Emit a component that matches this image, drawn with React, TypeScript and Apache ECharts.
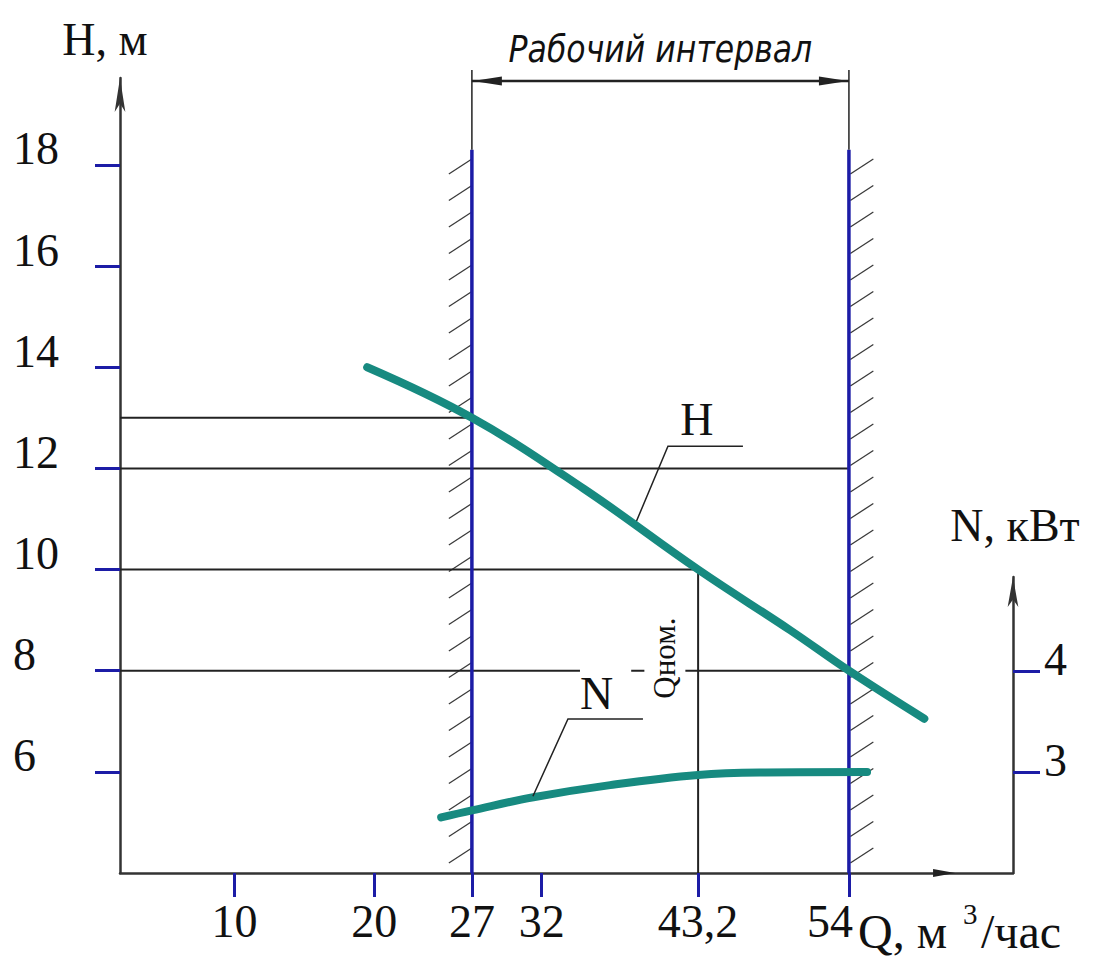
import React, { useEffect, useRef } from "react";
import * as echarts from "echarts";

// ---- Axes (values) ----
const Q_MIN = 1.8; // м³/час at the origin of the drawing
const Q_MAX = 65.75;
const Q_TICKS = [10, 20, 27, 32, 43.2, 54];
const H_MIN = 4; // м
const H_MAX = 19.72;
const H_TICKS = [6, 8, 10, 12, 14, 16, 18];
const N_MIN = 2; // кВт
const N_MAX = 4.93;
const N_TICKS = [3, 4];

// ---- Pump head curve H(Q) ----
const H_CURVE_Q = [19.5, 27, 35, 43.2, 49.8, 54, 59.4];
const H_CURVE_H = [14.0, 13.0, 11.6, 10.0, 8.8, 8.0, 7.05];

// ---- Pump power curve N(Q) ----
const N_CURVE_Q = [24.8, 27, 31.4, 36.9, 43.2, 48, 55.3];
const N_CURVE_N = [2.55, 2.62, 2.75, 2.87, 2.97, 2.995, 3.0];

// ---- Working interval and nominal point ----
const Q_WORK_MIN = 27;
const Q_WORK_MAX = 54;
const Q_NOM = 43.2;
const H_NOM = 10;

// ---- Horizontal reference lines: head level and the flow they run to ----
const REF_H = [13, 12, 10, 8];
const REF_TO_Q = [27, 54, 43.2, 54];

// ---- Annotation anchors (data units) ----
const INTERVAL_TOP_H = 18.3;
const DIM_LINE_H = 19.66;
const EXT_TOP_H = 19.88;
const TITLE_INTERVAL = [40.5, 20.3];
const HATCH_WIDTH_Q = 1.65;
const X_ARROW_TIP_Q = 61.6;
const H_LEADER = [[38.67, 10.88], [41.04, 12.44], [46.41, 12.44]];
const H_LABEL = [43.11, 12.96];
const QNOM_LABEL = [40.82, 8.25];
const N_LEADER = [[31.37, 2.76], [33.88, 3.525], [39.25, 3.525]];
const N_LABEL = [34.74, 3.78];

const SERIF = "'Liberation Serif', 'DejaVu Serif', 'Times New Roman', serif";
const TEAL = "#178a80";
const BLUE = "#1c1ca6";
const INK = "#222";
const AXIS = "#333";

const hData = H_CURVE_Q.map((q, i) => [q, H_CURVE_H[i]]);
const nData = N_CURVE_Q.map((q, i) => [q, N_CURVE_N[i]]);

function renderDecorH(params: any, api: any) {
  const c = (q: number, h: number) => api.coord([q, h]);
  const children: any[] = [];
  const line = (a: number[], b: number[], stroke: string, w: number) =>
    children.push({
      type: "line",
      shape: { x1: a[0], y1: a[1], x2: b[0], y2: b[1] },
      style: { stroke, lineWidth: w },
    });

  // hatching outside the working interval
  const strips = [
    [Q_WORK_MIN - HATCH_WIDTH_Q, Q_WORK_MIN],
    [Q_WORK_MAX + 0.1, Q_WORK_MAX + 0.1 + HATCH_WIDTH_Q],
  ];
  strips.forEach(([q0, q1]) => {
    const tl = c(q0, INTERVAL_TOP_H);
    const br = c(q1, H_MIN);
    for (let y = br[1] - 10; y - 16 >= tl[1]; y -= 26.5) {
      line([tl[0], y], [br[0], y - 15], "#3a3a3a", 1.3);
    }
  });

  // reference lines
  REF_H.forEach((h, i) => line(c(Q_MIN, h), c(REF_TO_Q[i], h), INK, 2));
  line(c(Q_NOM, H_NOM), c(Q_NOM, H_MIN), INK, 2);

  // working interval bounds and extension lines
  [Q_WORK_MIN, Q_WORK_MAX].forEach((q) => {
    line(c(q, INTERVAL_TOP_H), c(q, H_MIN), BLUE, 3.5);
    line(c(q, INTERVAL_TOP_H), c(q, EXT_TOP_H), INK, 1.5);
  });

  // dimension line with arrows
  const d0 = c(Q_WORK_MIN, DIM_LINE_H);
  const d1 = c(Q_WORK_MAX, DIM_LINE_H);
  line(d0, d1, INK, 2.5);
  children.push({
    type: "polygon",
    shape: { points: [[d0[0] + 1, d0[1]], [d0[0] + 30, d0[1] - 4.5], [d0[0] + 30, d0[1] + 4.5]] },
    style: { fill: INK },
  });
  children.push({
    type: "polygon",
    shape: { points: [[d1[0] - 1, d1[1]], [d1[0] - 30, d1[1] - 4.5], [d1[0] - 30, d1[1] + 4.5]] },
    style: { fill: INK },
  });

  // arrow on the Q axis
  const xa = c(X_ARROW_TIP_Q, H_MIN);
  children.push({
    type: "polygon",
    shape: { points: [[xa[0], xa[1]], [xa[0] - 22, xa[1] - 4], [xa[0] - 22, xa[1] + 4]] },
    style: { fill: INK },
  });

  // leader for H
  children.push({
    type: "polyline",
    shape: { points: H_LEADER.map((p) => c(p[0], p[1])) },
    style: { stroke: INK, lineWidth: 1.5, fill: "none" },
  });
  const hl = c(H_LABEL[0], H_LABEL[1]);
  children.push({
    type: "text",
    x: hl[0],
    y: hl[1],
    style: { text: "H", fontSize: 46, fontFamily: SERIF, fill: "#111", align: "center", verticalAlign: "middle" },
  });

  // Q nominal label
  const ql = c(QNOM_LABEL[0], QNOM_LABEL[1]);
  children.push({
    type: "text",
    x: ql[0],
    y: ql[1],
    rotation: Math.PI / 2,
    style: {
      text: "Qном.",
      fontSize: 31,
      fontFamily: SERIF,
      fill: "#111",
      align: "center",
      verticalAlign: "middle",
      backgroundColor: "#fff",
      padding: [5, 6, 5, 6],
    },
  });

  // working interval title
  const tl = c(TITLE_INTERVAL[0], TITLE_INTERVAL[1]);
  children.push({
    type: "text",
    x: tl[0],
    y: tl[1],
    scaleX: 0.83,
    style: {
      text: "Рабочий интервал",
      fontSize: 38,
      fontStyle: "italic",
      fontFamily: "'DejaVu Sans', sans-serif",
      fill: "#111",
      align: "center",
      verticalAlign: "middle",
    },
  });

  return { type: "group", children };
}

function renderDecorN(params: any, api: any) {
  const c = (q: number, n: number) => api.coord([q, n]);
  const children: any[] = [];
  const nl = c(N_LABEL[0], N_LABEL[1]);
  children.push({
    type: "text",
    x: nl[0],
    y: nl[1],
    style: {
      text: "N",
      fontSize: 46,
      fontFamily: SERIF,
      fill: "#111",
      align: "left",
      verticalAlign: "middle",
      backgroundColor: "#fff",
      padding: [5, 18, 5, 0],
    },
  });
  children.push({
    type: "polyline",
    shape: { points: N_LEADER.map((p) => c(p[0], p[1])) },
    style: { stroke: INK, lineWidth: 1.5, fill: "none" },
  });
  return { type: "group", children };
}

const labelFont = { fontFamily: SERIF, fontSize: 46, color: "#111" };

const option: any = {
  animation: false,
  backgroundColor: "#fff",
  grid: [
    { left: 120, right: 83, top: 78, bottom: 94 },
    { left: 120, right: 83, top: 577, bottom: 94 },
  ],
  xAxis: [
    {
      type: "value",
      gridIndex: 0,
      min: Q_MIN,
      max: Q_MAX,
      splitLine: { show: false },
      axisLine: { lineStyle: { color: AXIS, width: 2.5 } },
      axisTick: { customValues: Q_TICKS, length: 24, lineStyle: { color: BLUE, width: 3 } },
      axisLabel: {
        customValues: Q_TICKS,
        margin: 25,
        ...labelFont,
        formatter: (v: number) => (v === 54 ? "{s|54}" : String(v).replace(".", ",")),
        rich: { s: { ...labelFont, padding: [0, 38, 0, 0] } },
      },
    },
    { type: "value", gridIndex: 1, min: Q_MIN, max: Q_MAX, show: false },
  ],
  yAxis: [
    {
      type: "value",
      gridIndex: 0,
      min: H_MIN,
      max: H_MAX,
      splitLine: { show: false },
      axisLine: {
        show: true,
        symbol: ["none", "arrow"],
        symbolSize: [8, 34],
        lineStyle: { color: AXIS, width: 2.5 },
      },
      axisTick: { show: true, customValues: H_TICKS, length: 25, lineStyle: { color: BLUE, width: 3 } },
      axisLabel: {
        customValues: H_TICKS,
        align: "left",
        margin: 107,
        verticalAlign: "bottom",
        lineHeight: 32,
        ...labelFont,
      },
    },
    {
      type: "value",
      gridIndex: 1,
      position: "right",
      min: N_MIN,
      max: N_MAX,
      splitLine: { show: false },
      axisLine: {
        show: true,
        symbol: ["none", "arrow"],
        symbolSize: [8, 30],
        lineStyle: { color: AXIS, width: 2.5 },
      },
      axisTick: { show: true, customValues: N_TICKS, length: 27, lineStyle: { color: BLUE, width: 3 } },
      axisLabel: {
        customValues: N_TICKS,
        align: "left",
        margin: 31,
        verticalAlign: "bottom",
        lineHeight: 22,
        ...labelFont,
      },
    },
  ],
  graphic: [
    {
      type: "text",
      x: 105,
      y: 39,
      style: { text: "H, м", fontSize: 46, fontFamily: SERIF, fill: "#111", align: "center", verticalAlign: "middle" },
    },
    {
      type: "text",
      x: 1015,
      y: 525,
      style: { text: "N, кВт", fontSize: 46, fontFamily: SERIF, fill: "#111", align: "center", verticalAlign: "middle" },
    },
    {
      type: "text",
      x: 858,
      y: 931,
      style: { text: "Q, м", fontSize: 48, fontFamily: SERIF, fill: "#111", align: "left", verticalAlign: "middle" },
    },
    {
      type: "text",
      x: 963,
      y: 914,
      style: { text: "3", fontSize: 29, fontFamily: SERIF, fill: "#111", align: "left", verticalAlign: "middle" },
    },
    {
      type: "text",
      x: 981,
      y: 931,
      style: { text: "/час", fontSize: 48, fontFamily: SERIF, fill: "#111", align: "left", verticalAlign: "middle" },
    },
  ],
  series: [
    {
      type: "custom",
      name: "decor",
      xAxisIndex: 0,
      yAxisIndex: 0,
      silent: true,
      z: 1,
      data: [[Q_WORK_MIN, H_MIN]],
      renderItem: renderDecorH,
    },
    {
      type: "line",
      name: "H",
      xAxisIndex: 0,
      yAxisIndex: 0,
      data: hData,
      smooth: 0.4,
      showSymbol: false,
      z: 3,
      lineStyle: { color: TEAL, width: 8, cap: "round" },
    },
    {
      type: "line",
      name: "N",
      xAxisIndex: 1,
      yAxisIndex: 1,
      data: nData,
      smooth: 0.4,
      showSymbol: false,
      z: 3,
      lineStyle: { color: TEAL, width: 8, cap: "round" },
    },
    {
      type: "custom",
      name: "decorN",
      xAxisIndex: 1,
      yAxisIndex: 1,
      silent: true,
      z: 4,
      data: [[Q_WORK_MIN, N_MIN]],
      renderItem: renderDecorN,
    },
  ],
};

export default function App() {
  const ref = useRef<HTMLDivElement>(null);
  useEffect(() => {
    const chart = echarts.init(ref.current!, null, { renderer: "svg" });
    chart.setOption(option);
    return () => chart.dispose();
  }, []);
  return (
    <div
      ref={ref}
      style={{ position: "absolute", left: 0, top: 0, width: 1096, height: 967, background: "#fff" }}
    />
  );
}
